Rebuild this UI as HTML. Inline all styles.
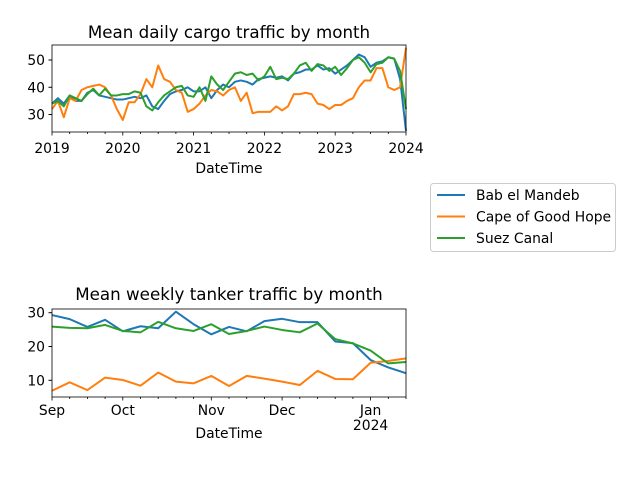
<!DOCTYPE html>
<html><head><meta charset="utf-8"><style>body{margin:0;background:#fff}svg{display:block;font-family:"DejaVu Sans","Liberation Sans",sans-serif}</style></head>
<body>
<svg id="c" width="640" height="480" viewBox="0 0 640 480"></svg>
<script>
const topYears=["2019","2020","2021","2022","2023","2024"];
const topYTicks=[30,40,50];
const babCargo=[34,36,34,37,35,35,38,39,37,36.5,36,35.5,35.5,36,36.5,36,37,33,32,35,37.5,38.5,39,40,38.5,38.5,40,36,39,41,40,42,42.5,42,41,43,43.5,44,43.5,44,42.5,45,45.5,46.5,46.5,48,46.5,47,45,46.5,48,50,52,51,47.5,49,49.5,51,50.5,43,24];
const capeCargo=[32,35,29,36,35,39,40,40.5,41,40,37,32,28,34.5,34.5,37.5,43,40,48,43,42,39,38,31,32,34,37,39,38.5,37,39,40,35,38,30.5,31,31,31,33,31.5,33,37.5,37.5,38,37.5,34,33.5,32,33.5,33.5,35,36,40,42.5,42.5,47,47,40,39,40,54.5];
const suezCargo=[34,35,33,37,36,35,37.5,39.5,37,39.5,37,37,37.5,37.5,38.5,38,33,31.5,34.5,37,38.5,40,40.5,37,36.5,40,35,44,41,39,42,45,45.5,44.5,45,42.5,44,47.5,43,43.5,43,45,48,49,46,48.5,48,46,47.5,44.5,47,50,51,49,45.5,48.5,49,51,50.5,46,32];
const botXLabels=["Sep","Oct","Nov","Dec","Jan"];
const botXIdx=[0,4,9,13,18];
const botYTicks=[10,20,30];
const babTanker=[29.3,28.1,25.8,27.9,24.5,26.0,25.4,30.3,26.6,23.6,25.8,24.5,27.5,28.2,27.2,27.2,21.5,21.0,16.0,13.8,12.1];
const capeTanker=[6.9,9.4,7.1,10.8,10.1,8.4,12.3,9.6,9.1,11.3,8.3,11.3,10.5,9.6,8.6,12.8,10.4,10.3,15.2,15.7,16.5];
const suezTanker=[25.9,25.5,25.4,26.4,24.6,24.2,27.3,25.4,24.6,26.6,23.7,24.6,25.9,24.9,24.2,26.8,22.2,20.9,18.8,15.0,15.4];
const colors=["#1f77b4","#ff7f0e","#2ca02c"];
const names=["Bab el Mandeb","Cape of Good Hope","Suez Canal"];
const svg=document.getElementById('c');const NS="http://www.w3.org/2000/svg";
const FS=13.9, TFS=16.7;
function el(t,a,txt){const e=document.createElementNS(NS,t);for(const k in a)e.setAttribute(k,a[k]);if(txt!==undefined)e.textContent=txt;svg.appendChild(e);return e;}
function panel(key,x0,x1,y0,y1,n,ymin,ymax,series,title,titleY){
  const sx=i=>x0+(x1-x0)*i/(n-1), sy=v=>y1-(v-ymin)/(ymax-ymin)*(y1-y0);
  series.forEach((s,k)=>{const p=el('polyline',{points:s.map((v,i)=>sx(i)+','+sy(v)).join(' '),fill:'none',stroke:colors[k],'stroke-width':2,'stroke-linejoin':'round'});
    
    });
  const f=el('rect',{x:x0,y:y0,width:x1-x0,height:y1-y0,fill:'none',stroke:'#000','stroke-width':0.8});
  
  const t=el('text',{x:(x0+x1)/2,y:titleY,'text-anchor':'middle','font-size':TFS},title);
  
  const xl=el('text',{x:(x0+x1)/2,y:y1+41,'text-anchor':'middle','font-size':FS},'DateTime');
  
  return {sx,sy};
}
let A=panel('cargo',52,406,45,132,61,23.6,55.5,[babCargo,capeCargo,suezCargo],'Mean daily cargo traffic by month',38);
topYTicks.forEach(v=>{const y=A.sy(v);el('line',{x1:48.5,x2:52,y1:y,y2:y,stroke:'#000'});
  const t=el('text',{x:45,y:y+5,'text-anchor':'end','font-size':FS},String(v));
  });
for(let i=0;i<61;i+=3){const x=A.sx(i);el('line',{x1:x,x2:x,y1:132,y2:i%12==0?135.5:134,stroke:'#000','stroke-width':0.8});}
topYears.forEach((yv,j)=>{const x=A.sx(j*12);const t=el('text',{x:x,y:153,'text-anchor':'middle','font-size':FS},yv);
  });
let B=panel('tanker',52,406,309,397,21,5.06,31.1,[babTanker,capeTanker,suezTanker],'Mean weekly tanker traffic by month',300);
botYTicks.forEach(v=>{const y=B.sy(v);el('line',{x1:48.5,x2:52,y1:y,y2:y,stroke:'#000'});
  const t=el('text',{x:45,y:y+5,'text-anchor':'end','font-size':FS},String(v));
  });
for(let i=0;i<21;i++){const x=B.sx(i);el('line',{x1:x,x2:x,y1:397,y2:botXIdx.includes(i)?400.5:399,stroke:'#000','stroke-width':0.8});}
botXLabels.forEach((l,j)=>{const x=B.sx(botXIdx[j]);const t=el('text',{x:x,y:415,'text-anchor':'middle','font-size':FS},l);
  });
const yr=el('text',{x:B.sx(18),y:430,'text-anchor':'middle','font-size':FS},'2024');

const lb=el('rect',{x:430.5,y:183.5,width:185,height:68,rx:3,fill:'#fff',stroke:'#ccc'});

names.forEach((n,k)=>{const y=195+k*21.5;
  const ln=el('line',{x1:437,x2:465,y1:y,y2:y,stroke:colors[k],'stroke-width':2});
  
  const t=el('text',{x:476,y:y+5,'font-size':FS},n);
  });
</script>
</body></html>
